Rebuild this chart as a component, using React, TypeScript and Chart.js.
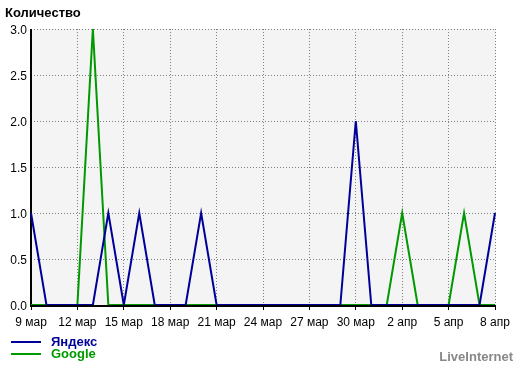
import React, { useEffect, useRef } from "react";
import { Chart, registerables } from "chart.js";

Chart.register(...registerables);

const dates = [
  "9 мар", "10 мар", "11 мар", "12 мар", "13 мар", "14 мар", "15 мар", "16 мар",
  "17 мар", "18 мар", "19 мар", "20 мар", "21 мар", "22 мар", "23 мар", "24 мар",
  "25 мар", "26 мар", "27 мар", "28 мар", "29 мар", "30 мар", "31 мар",
  "1 апр", "2 апр", "3 апр", "4 апр", "5 апр", "6 апр", "7 апр", "8 апр",
];

const yandex = [1, 0, 0, 0, 0, 1, 0, 1, 0, 0, 0, 1, 0, 0, 0, 0, 0, 0, 0, 0, 0, 2, 0, 0, 0, 0, 0, 0, 0, 0, 1];
const google = [0, 0, 0, 0, 3, 0, 0, 0, 0, 0, 0, 0, 0, 0, 0, 0, 0, 0, 0, 0, 0, 0, 0, 0, 1, 0, 0, 0, 1, 0, 0];

const seriesNames = ["Яндекс", "Google"];
const seriesColors = ["#000099", "#009900"];

const yMin = 0;
const yMax = 3;
const yStep = 0.5;
const labelEvery = 3;

const titleText = "Количество";
const brandText = "LiveInternet";

const FONT = "'Liberation Sans', Arial, sans-serif";

const decorPlugin = {
  id: "decor",
  beforeDraw(chart: any) {
    const { ctx, chartArea: a, width, height } = chart;
    ctx.save();
    ctx.fillStyle = "#ffffff";
    ctx.fillRect(0, 0, width, height);
    ctx.fillStyle = "#f4f4f4";
    ctx.fillRect(a.left, a.top, a.right - a.left + 1, a.bottom - a.top);
    ctx.restore();
  },
  beforeDatasetsDraw(chart: any) {
    const { ctx, chartArea: a } = chart;
    ctx.save();
    ctx.fillStyle = "#000000";
    ctx.fillRect(a.left - 1, a.top, 2, a.bottom - a.top + 2);
    ctx.fillRect(a.left - 1, a.bottom, a.right - a.left + 2, 2);
    ctx.restore();
  },
  afterDraw(chart: any) {
    const { ctx, width } = chart;
    ctx.save();
    ctx.textAlign = "left";
    ctx.textBaseline = "alphabetic";
    ctx.fillStyle = "#000000";
    ctx.font = `bold 13px ${FONT}`;
    ctx.fillText(titleText, 5, 17);

    const ds = chart.data.datasets;
    const rows = [341, 353];
    ds.forEach((d: any, i: number) => {
      ctx.fillStyle = d.borderColor;
      ctx.fillRect(11, rows[i], 30, 2);
      ctx.font = `bold 13px ${FONT}`;
      ctx.fillText(d.label, 51, rows[i] + 5);
    });

    ctx.fillStyle = "#888888";
    ctx.font = `bold 13px ${FONT}`;
    ctx.textAlign = "right";
    ctx.fillText(brandText, width - 7, 361);
    ctx.restore();
  },
};

export default function App() {
  const ref = useRef<HTMLCanvasElement | null>(null);

  useEffect(() => {
    if (!ref.current) return;
    const chart = new Chart(ref.current, {
      type: "line",
      data: {
        labels: dates,
        datasets: [
          {
            label: seriesNames[0],
            data: yandex,
            borderColor: seriesColors[0],
            backgroundColor: seriesColors[0],
            borderWidth: 2,
            pointRadius: 0,
            tension: 0,
            fill: false,
          },
          {
            label: seriesNames[1],
            data: google,
            borderColor: seriesColors[1],
            backgroundColor: seriesColors[1],
            borderWidth: 2,
            pointRadius: 0,
            tension: 0,
            fill: false,
          },
        ],
      },
      options: {
        responsive: false,
        animation: false,
        devicePixelRatio: 1,
        layout: { padding: { top: 29, right: 25, left: 0, bottom: 0 } },
        plugins: {
          legend: { display: false },
          tooltip: { enabled: false },
          title: { display: false },
        },
        scales: {
          x: {
            type: "category",
            offset: false,
            afterFit(scale: any) {
              scale.height = 61;
            },
            ticks: {
              autoSkip: false,
              maxRotation: 0,
              minRotation: 0,
              padding: 5,
              color: "#000000",
              font: { family: FONT, size: 12 },
              callback: (_v: any, i: number) => (i % labelEvery === 0 ? dates[i] : ""),
            },
            grid: {
              drawTicks: true,
              tickLength: 5,
              lineWidth: 1,
              tickWidth: 1,
              tickBorderDash: [],
              color: (c: any) => (c.index % labelEvery === 0 && c.index > 0 ? "#808080" : "rgba(0,0,0,0)"),
              tickColor: (c: any) => (c.index % labelEvery === 0 ? "#000000" : "rgba(0,0,0,0)"),
            },
            border: { display: false, dash: [1, 2] },
          },
          y: {
            min: yMin,
            max: yMax,
            afterFit(scale: any) {
              scale.width = 31;
            },
            ticks: {
              stepSize: yStep,
              padding: 4,
              labelOffset: 2,
              color: "#000000",
              font: { family: FONT, size: 12 },
              callback: (v: any) => Number(v).toFixed(1),
            },
            grid: {
              drawTicks: false,
              lineWidth: 1,
              color: (c: any) => (c.index > 0 ? "#808080" : "rgba(0,0,0,0)"),
            },
            border: { display: false, dash: [1, 2] },
          },
        },
      },
      plugins: [decorPlugin],
    });
    return () => chart.destroy();
  }, []);

  return (
    <div style={{ position: "fixed", left: 0, top: 0, width: 520, height: 366 }}>
      <canvas ref={ref} width={520} height={366} style={{ display: "block" }} />
    </div>
  );
}
